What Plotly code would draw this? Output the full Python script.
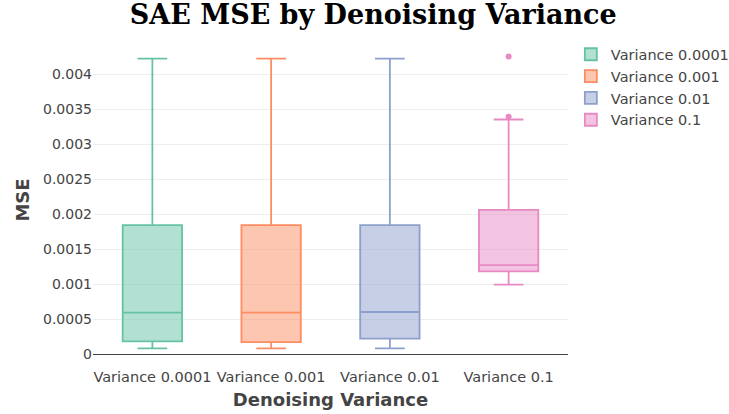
import plotly.graph_objects as go

# Summary statistics of the SAE reconstruction error for each denoising variance
variances = ["Variance 0.0001", "Variance 0.001", "Variance 0.01", "Variance 0.1"]
lower_fence = [0.00008, 0.00008, 0.00008, 0.00099]
q1 = [0.00018, 0.00017, 0.00022, 0.00118]
median = [0.00059, 0.00059, 0.00060, 0.00127]
q3 = [0.00184, 0.00184, 0.00184, 0.00206]
upper_fence = [0.00422, 0.00422, 0.00422, 0.00335]

# Outlying runs (only the largest variance has any)
outlier_x = ["Variance 0.1", "Variance 0.1"]
outlier_y = [0.00425, 0.00339]

colors = ["#66c2a5", "#fc8d62", "#8da0cb", "#e78ac3"]

fig = go.Figure()
for i, name in enumerate(variances):
    fig.add_trace(go.Box(
        x=[name],
        q1=[q1[i]], median=[median[i]], q3=[q3[i]],
        lowerfence=[lower_fence[i]], upperfence=[upper_fence[i]],
        name=name,
        marker_color=colors[i],
        line=dict(width=1.8),
        width=0.5,
    ))

fig.add_trace(go.Scatter(
    x=outlier_x, y=outlier_y, mode="markers",
    marker=dict(color=colors[3], size=6),
    showlegend=False, hoverinfo="y",
))

fig.update_layout(
    width=729, height=414,
    paper_bgcolor="white", plot_bgcolor="white",
    margin=dict(l=93, r=161, t=46, b=60, autoexpand=False),
    font=dict(family="DejaVu Sans", size=14, color="#444"),
    title=dict(
        text="<b>SAE MSE by Denoising Variance</b>",
        x=0.512, xanchor="center", y=0.965, yanchor="middle",
        font=dict(family="DejaVu Serif", size=27, color="black"),
    ),
    legend=dict(x=1.006, y=1.025, xanchor="left", yanchor="top",
                font=dict(size=14.5), tracegroupgap=0),
    xaxis=dict(
        title=dict(text="<b>Denoising Variance</b>", font=dict(size=18), standoff=8),
        categoryorder="array", categoryarray=variances,
        range=[-0.5, 3.5], tickangle=0, automargin=False,
        tickfont=dict(size=14.5),
        showline=True, linecolor="#444", linewidth=1,
        showgrid=False, ticks="outside", ticklen=10, tickcolor="rgba(0,0,0,0)",
    ),
    yaxis=dict(
        title=dict(text="<b>MSE</b>", font=dict(size=18), standoff=8),
        range=[0, 0.0044], dtick=0.0005, tickformat="~r", automargin=False,
        showgrid=True, gridcolor="#eeeeee", zeroline=False,
        ticks="",
    ),
)

fig.write_html("out.html")
